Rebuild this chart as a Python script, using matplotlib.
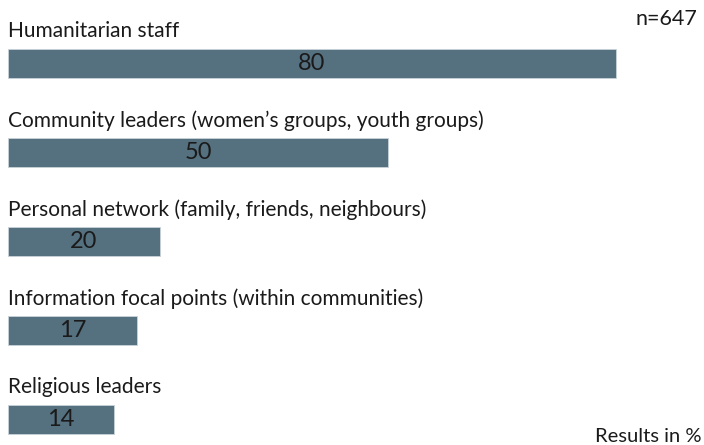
import matplotlib.pyplot as plt

plt.rcParams['font.family'] = ['Lato', 'DejaVu Sans']

sources = [
    'Humanitarian staff',
    'Community leaders (women\u2019s groups, youth groups)',
    'Personal network (family, friends, neighbours)',
    'Information focal points (within communities)',
    'Religious leaders',
]
values = [80, 50, 20, 17, 14]
sample_note = 'n=647'
unit_note = 'Results in %'

bar_color = '#55707f'
text_color = '#1a1a1a'

fig = plt.figure(figsize=(7.04, 4.45), dpi=100)
ax = fig.add_axes([0, 0, 1, 1])

# pixel-ish layout: 7.6 px per percent, 89 px between rows
px_per_unit = 7.6
ax.set_xlim(-8 / px_per_unit, (704 - 8) / px_per_unit)
ax.set_ylim((445 - 63.5) / 89, -63.5 / 89)

pos = list(range(len(values)))
ax.barh(pos, values, height=0.33, color=bar_color, edgecolor='#c9d3d9', linewidth=0.6)

for i, (name, v) in enumerate(zip(sources, values)):
    ax.text(0, i - 0.36, name, ha='left', va='center', fontsize=15, color=text_color)
    ax.text(v / 2, i, str(v), ha='center', va='center', fontsize=17, color=text_color)

fig.text(0.99, 0.957, sample_note, ha='right', va='center', fontsize=15.5, color=text_color)
fig.text(0.997, 0.02, unit_note, ha='right', va='center', fontsize=14.5, color=text_color)

ax.axis('off')
fig.savefig('out.png', dpi=100)
